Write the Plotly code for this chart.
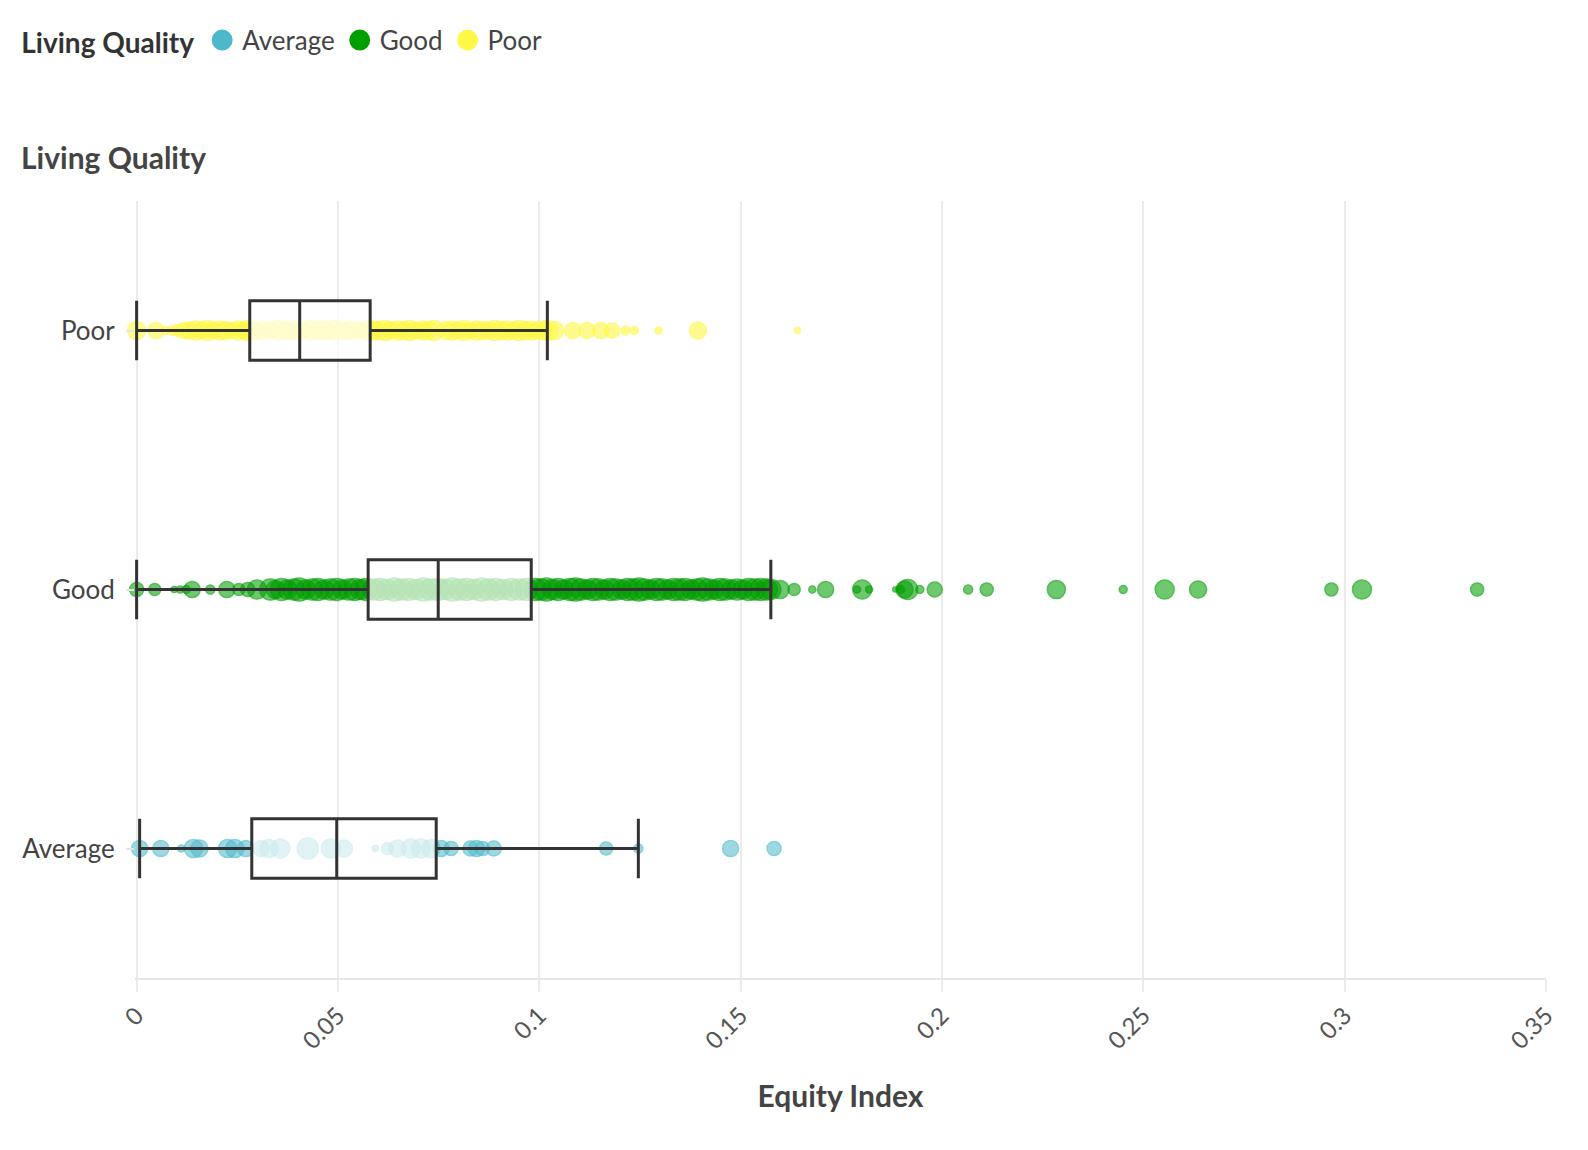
import plotly.graph_objects as go

# ---------------- data ----------------
categories = ["Average", "Good", "Poor"]
x_tick_values = [0, 0.05, 0.1, 0.15, 0.2, 0.25, 0.3, 0.35]
x_tick_labels = ["0", "0.05", "0.1", "0.15", "0.2", "0.25", "0.3", "0.35"]

poor_values = [0.0, 0.0048, 0.0073, 0.0088, 0.0103, 0.0118, 0.0131, 0.0146, 0.0161, 0.0176,
               0.0191, 0.0206, 0.0221, 0.0236, 0.0251, 0.0266, 0.0276, 0.0291, 0.0312, 0.0332,
               0.0352, 0.0372, 0.0392, 0.0412, 0.0432, 0.0452, 0.0472, 0.0492, 0.0513, 0.0533,
               0.0553, 0.0573, 0.0588, 0.0603, 0.0618, 0.0633, 0.0648, 0.0663, 0.0678, 0.0693,
               0.0709, 0.0724, 0.0739, 0.0769, 0.0784, 0.0799, 0.0814, 0.0829, 0.0844, 0.0859,
               0.0874, 0.0889, 0.0905, 0.0920, 0.0935, 0.0950, 0.0965, 0.0980, 0.0995, 0.1010,
               0.1020, 0.1038, 0.1083, 0.1118, 0.1153, 0.1181, 0.1214, 0.1236, 0.1296, 0.1394,
               0.1641]
poor_sizes = [18, 16, 8, 10, 12, 16, 17, 19, 17, 20,
              16, 19, 18, 16, 19, 17, 20, 18, 19, 17,
              20, 18, 19, 17, 20, 18, 19, 20, 18, 19,
              17, 20, 19, 18, 20, 17, 19, 18, 20, 17,
              19, 18, 20, 18, 19, 17, 20, 16, 19, 18,
              17, 20, 18, 19, 17, 20, 18, 19, 17, 18,
              20, 18, 16, 16, 16, 15, 9, 8, 7, 17,
              6]

good_values = [0.0, 0.0045, 0.0093, 0.0108, 0.0123, 0.0138, 0.0183, 0.0224, 0.0254, 0.0276,
               0.0299, 0.0332, 0.0345, 0.0360, 0.0374, 0.0390, 0.0404, 0.0420, 0.0436, 0.0450,
               0.0466, 0.0481, 0.0497, 0.0511, 0.0527, 0.0542, 0.0556, 0.0570, 0.0588, 0.0605,
               0.0622, 0.0640, 0.0658, 0.0675, 0.0694, 0.0712, 0.0730, 0.0748, 0.0766, 0.0784,
               0.0802, 0.0820, 0.0838, 0.0856, 0.0874, 0.0892, 0.0910, 0.0930, 0.0950, 0.0968,
               0.0990, 0.1004, 0.1018, 0.1033, 0.1047, 0.1061, 0.1076, 0.1090, 0.1104, 0.1119,
               0.1133, 0.1147, 0.1162, 0.1176, 0.1190, 0.1205, 0.1219, 0.1233, 0.1248, 0.1262,
               0.1276, 0.1291, 0.1305, 0.1319, 0.1334, 0.1348, 0.1362, 0.1377, 0.1391, 0.1405,
               0.1420, 0.1434, 0.1448, 0.1462, 0.1477, 0.1491, 0.1505, 0.1520, 0.1535, 0.1550,
               0.1565, 0.1575, 0.1598, 0.1633, 0.1678, 0.1711, 0.1789, 0.1802, 0.1819, 0.1884,
               0.1897, 0.1907, 0.1915, 0.1945, 0.1982, 0.2065, 0.2111, 0.2284, 0.2450, 0.2553,
               0.2636, 0.2967, 0.3043, 0.3329]
good_sizes = [14, 12, 6, 7, 8, 16, 9, 16, 12, 14,
              19, 21, 18, 22, 19, 21, 23, 19, 21, 22,
              19, 21, 22, 19, 21, 22, 20, 22, 21, 22,
              20, 23, 21, 22, 20, 23, 21, 22, 20, 23,
              21, 22, 20, 23, 21, 22, 20, 22, 21, 22,
              22, 21, 23, 20, 22, 19, 22, 23, 21, 19,
              22, 21, 19, 22, 21, 19, 22, 21, 23, 21,
              19, 22, 21, 19, 22, 21, 22, 19, 21, 23,
              21, 19, 22, 21, 19, 21, 19, 22, 21, 22,
              21, 20, 18, 12, 7, 16, 7, 19, 7, 5,
              8, 17, 20, 8, 15, 9, 13, 18, 8, 19,
              17, 13, 19, 13]

average_values = [0.00075, 0.0060, 0.0111, 0.0141, 0.0156, 0.0226, 0.0244, 0.0271, 0.0309, 0.0329,
                  0.0357, 0.0425, 0.0482, 0.0515, 0.0593, 0.0623, 0.0648, 0.0681, 0.0706, 0.0731,
                  0.0756, 0.0781, 0.0829, 0.0844, 0.0859, 0.0887, 0.1166, 0.1246, 0.1475, 0.1583]
average_sizes = [16, 16, 7, 18, 17, 18, 18, 16, 16, 18,
                 19, 21, 19, 17, 6, 12, 17, 19, 19, 18,
                 16, 14, 15, 16, 14, 15, 13, 9, 16, 14]

# five-number summaries per category (order: Average, Good, Poor)
box_lower = [0.00075, 0.0, 0.0]
box_q1 = [0.0286, 0.0575, 0.0281]
box_median = [0.0497, 0.0749, 0.0405]
box_q3 = [0.0744, 0.0980, 0.0580]
box_upper = [0.1246, 0.1575, 0.1020]

colors = {"Average": "77,184,203", "Good": "0,158,0", "Poor": "255,248,70"}
alphas = {"Average": 0.78, "Good": 0.8, "Poor": 0.85}
series = {"Average": (average_values, average_sizes),
          "Good": (good_values, good_sizes),
          "Poor": (poor_values, poor_sizes)}

FONT = "Lato"

fig = go.Figure()

# point clouds (base subplot)
for cat in categories:
    vals, sizes = series[cat]
    rgb = colors[cat]
    fig.add_trace(go.Scatter(
        x=vals, y=[cat] * len(vals), mode="markers",
        marker=dict(size=sizes, color=f"rgba({rgb},{alphas[cat]})",
                    line=dict(color=f"rgba({rgb},0.95)", width=1.5)),
        cliponaxis=False, showlegend=False, hoverinfo="x+y", name=cat))

# legend entries
for cat in categories:
    rgb = colors[cat]
    fig.add_trace(go.Scatter(
        x=[None], y=[None], mode="markers", name=cat,
        marker=dict(size=16, color=f"rgb({rgb})", line=dict(color=f"rgb({rgb})", width=5)),
        showlegend=True))

# boxes on an overlaying axis so they sit on top of the points
fig.add_trace(go.Box(
    y=categories, q1=box_q1, median=box_median, q3=box_q3,
    lowerfence=box_lower, upperfence=box_upper,
    orientation="h", width=0.23, whiskerwidth=1,
    fillcolor="rgba(255,255,255,0.7)", line=dict(color="#333333", width=3),
    boxpoints=False, showlegend=False, xaxis="x", yaxis="y2"))

fig.update_layout(
    width=1608, height=1164,
    margin=dict(l=135, r=62, t=201, b=186),
    paper_bgcolor="white", plot_bgcolor="white",
    font=dict(family=FONT, color="#444444"),
    showlegend=True,
    legend=dict(orientation="h", x=-0.082, xanchor="left", y=1.207, yanchor="middle",
                title=dict(text="<b>Living Quality</b>", font=dict(size=28, color="#333333", family=FONT)),
                font=dict(size=26, color="#444444", family=FONT),
                itemsizing="trace", tracegroupgap=0),
    xaxis=dict(range=[-0.0004, 0.35], tickvals=x_tick_values, ticktext=x_tick_labels,
               tickangle=-45, tickfont=dict(size=24, color="#555555", family=FONT),
               showgrid=True, gridcolor="#ebebeb", gridwidth=2,
               showline=True, linecolor="#e6e6e6", linewidth=2,
               ticks="outside", ticklen=12, tickcolor="#ebebeb", tickwidth=2,
               zeroline=False,
               title=dict(text="<b>Equity Index</b>", font=dict(size=30, color="#444444", family=FONT),
                          standoff=33)),
    yaxis=dict(type="category", categoryorder="array", categoryarray=categories,
               range=[-0.5, 2.5], showgrid=False, zeroline=False, showline=False,
               ticks="outside", ticklen=8, tickcolor="#e6e6e6", tickwidth=2,
               ticklabelstandoff=6,
               tickfont=dict(size=26, color="#444444", family=FONT)),
    yaxis2=dict(type="category", categoryorder="array", categoryarray=categories,
                range=[-0.5, 2.5], overlaying="y", visible=False),
    annotations=[dict(text="<b>Living Quality</b>", xref="paper", yref="paper",
                      x=-0.0825, y=1.057, xanchor="left", yanchor="middle", showarrow=False,
                      font=dict(size=30, color="#444444", family=FONT))],
)

fig.write_html("out.html", config={"displayModeBar": False},
               post_script="document.body.style.margin='0';document.body.style.overflow='hidden';")
